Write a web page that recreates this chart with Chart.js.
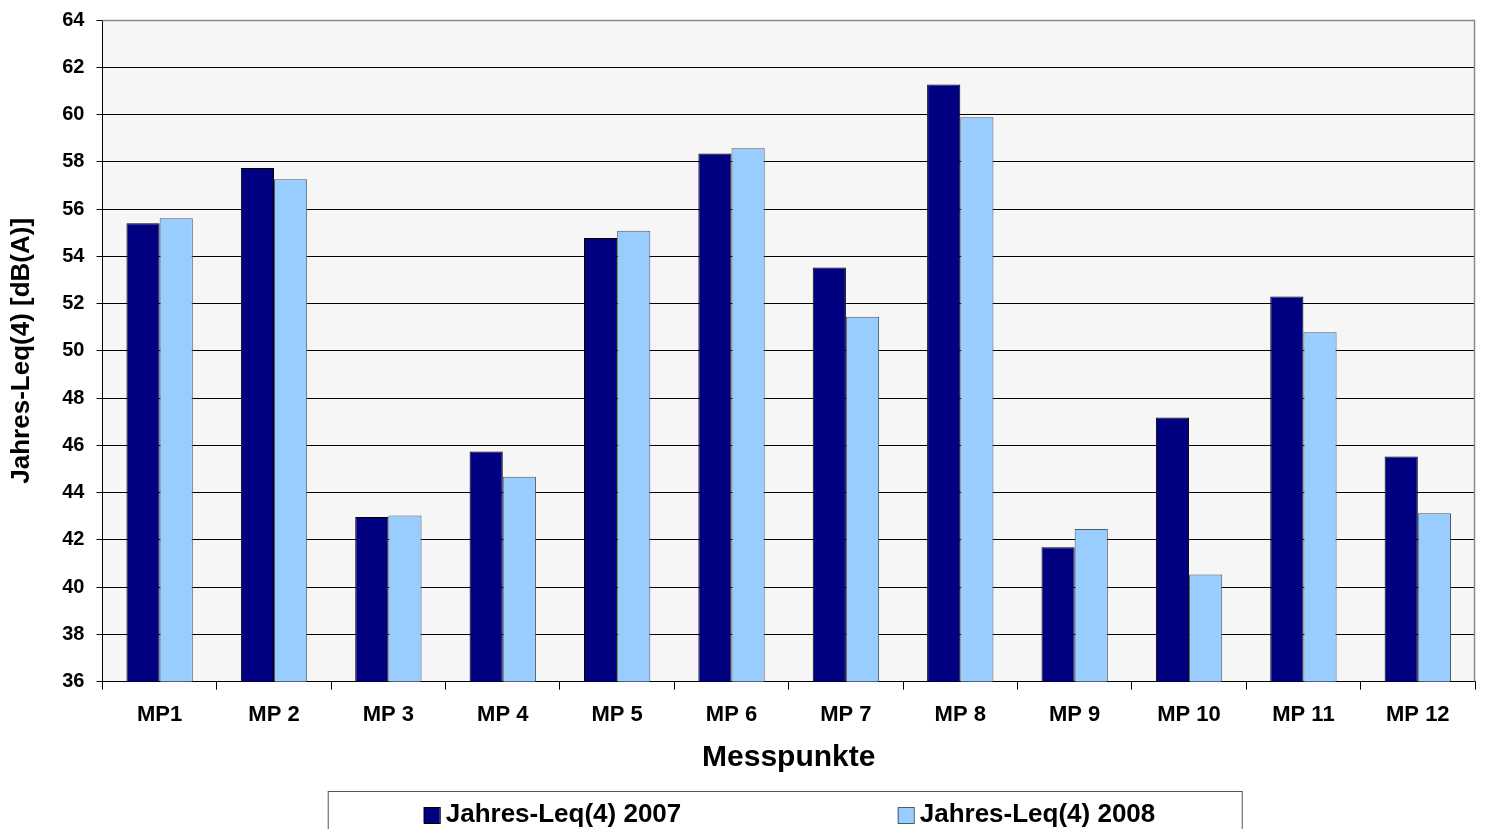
<!DOCTYPE html>
<html>
<head>
<meta charset="utf-8">
<script src="https://cdn.jsdelivr.net/npm/chart.js@4/dist/chart.umd.min.js"></script>
<style>
  html, body { margin: 0; padding: 0; background: #fff; }
  #wrap { width: 1487px; height: 829px; }
</style>
</head>
<body>
<div id="wrap"><canvas id="leqChart" width="1487" height="829"></canvas></div>
<script>
const messpunkte = ["MP1", "MP 2", "MP 3", "MP 4", "MP 5", "MP 6", "MP 7", "MP 8", "MP 9", "MP 10", "MP 11", "MP 12"];
const leq2007 = [55.4, 57.74, 42.97, 45.74, 54.77, 58.35, 53.53, 61.27, 41.69, 47.18, 52.3, 45.53];
const leq2008 = [55.61, 57.26, 43.03, 44.67, 55.08, 58.57, 51.44, 59.88, 42.46, 40.53, 50.78, 43.13];
const seriesNames = ["Jahres-Leq(4) 2007", "Jahres-Leq(4) 2008"];

const FONT = "'Liberation Sans', Arial, sans-serif";

//plot area background + border
const plotBackground = {
  id: "plotBackground",
  beforeDraw(chart) {
    const { ctx, chartArea: a } = chart;
    ctx.save();
    ctx.fillStyle = "#f6f6f6";
    ctx.fillRect(a.left, a.top, a.right - a.left, a.bottom - a.top);
    ctx.restore();
  },
  afterDatasetsDraw(chart) {
    const { ctx, chartArea: a } = chart;
    ctx.save();
    ctx.strokeStyle = "#8a8a8a";
    ctx.lineWidth = 1.5;
    ctx.beginPath();
    ctx.moveTo(a.left, a.top + 0.5);
    ctx.lineTo(a.right - 0.5, a.top + 0.5);
    ctx.lineTo(a.right - 0.5, a.bottom);
    ctx.stroke();
    ctx.restore();
  }
};

//legend in a box under the chart
const boxLegend = {
  id: "boxLegend",
  afterDraw(chart) {
    const { ctx, chartArea: a } = chart;
    const cx = (a.left + a.right) / 2 - 4;
    const boxW = 914, top = 791;
    ctx.save();
    ctx.strokeStyle = "#555";
    ctx.lineWidth = 1;
    ctx.strokeRect(cx - boxW / 2 + 0.5, top + 0.5, boxW, 60);
    ctx.font = "bold 26px " + FONT;
    ctx.textBaseline = "middle";
    const starts = [cx - 361, cx + 113];
    chart.data.datasets.forEach((ds, i) => {
      const x = starts[i];
      ctx.fillStyle = ds.backgroundColor;
      ctx.fillRect(x, 807, 16, 16);
      ctx.strokeStyle = ds.borderColor;
      ctx.strokeRect(x + 0.5, 807.5, 16, 16);
      ctx.fillStyle = "#000";
      ctx.fillText(ds.label, x + 22, 815);
    });
    ctx.restore();
  }
};

const ctx = document.getElementById("leqChart").getContext("2d");

new Chart(ctx, {
  type: "bar",
  data: {
    labels: messpunkte,
    datasets: [
      {
        label: seriesNames[0],
        data: leq2007,
        backgroundColor: "#000080",
        borderColor: "#000000",
        borderWidth: 1
      },
      {
        label: seriesNames[1],
        data: leq2008,
        backgroundColor: "#99ccff",
        borderColor: "#4a5a6a",
        borderWidth: 1
      }
    ]
  },
  options: {
    responsive: false,
    animation: false,
    layout: {
      padding: { top: 3, right: 12, bottom: 53, left: 6 }
    },
    datasets: {
      bar: { categoryPercentage: 0.58, barPercentage: 1 }
    },
    plugins: {
      legend: { display: false },
      tooltip: { enabled: false }
    },
    scales: {
      x: {
        grid: {
          offset: true,
          drawOnChartArea: false,
          tickLength: 8,
          color: "#000"
        },
        border: { color: "#000", width: 1 },
        ticks: {
          color: "#000",
          padding: 12,
          font: { family: FONT, size: 22, weight: "bold" },
          maxRotation: 0
        },
        title: {
          display: true,
          text: "Messpunkte",
          color: "#000",
          font: { family: FONT, size: 30, weight: "bold" },
          padding: { top: 0, bottom: 0 }
        }
      },
      y: {
        min: 36,
        max: 64,
        grid: {
          color: "#000",
          tickLength: 6
        },
        border: { color: "#000", width: 1 },
        ticks: {
          stepSize: 2,
          color: "#000",
          padding: 12,
          font: { family: FONT, size: 20, weight: "bold", lineHeight: 0.8 }
        },
        title: {
          display: true,
          text: "Jahres-Leq(4) [dB(A)]",
          color: "#000",
          font: { family: FONT, size: 26, weight: "bold" },
          padding: { top: 0, bottom: 13 }
        }
      }
    }
  },
  plugins: [plotBackground, boxLegend]
});
</script>
</body>
</html>
